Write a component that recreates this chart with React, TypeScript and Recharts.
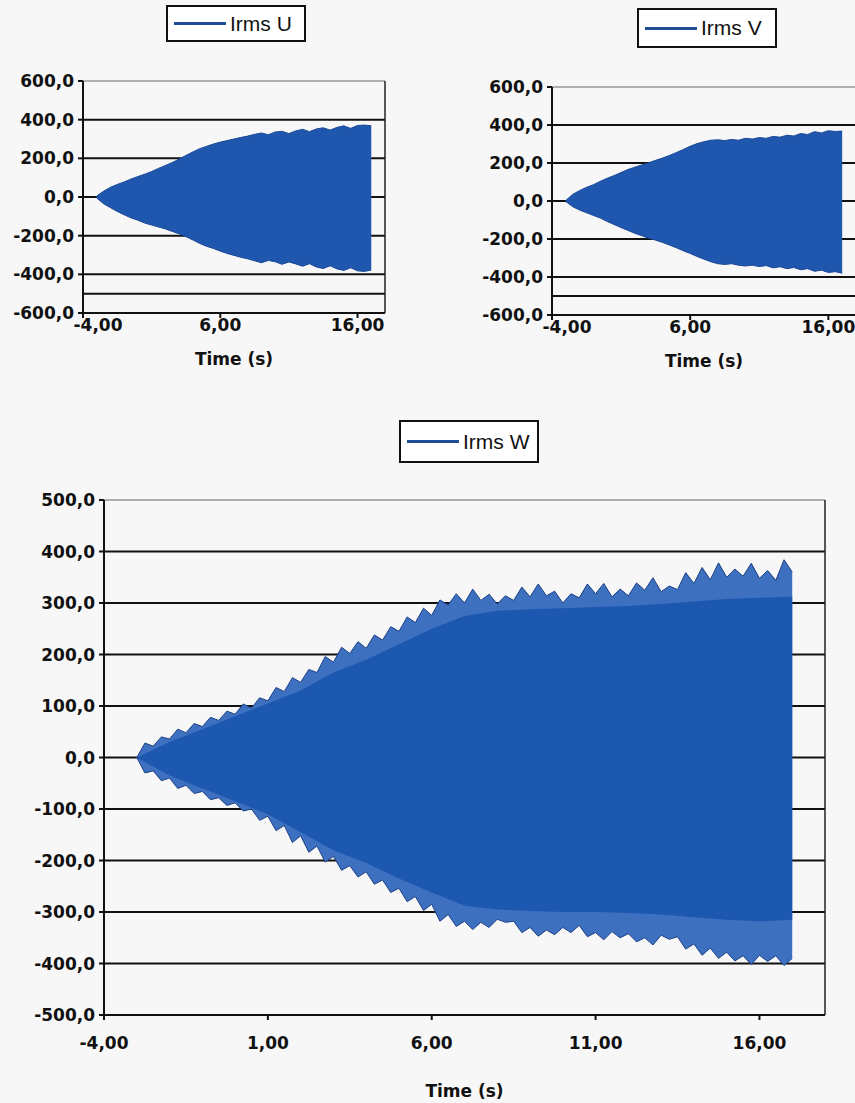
import { ComposedChart, Area, XAxis, YAxis, CartesianGrid, ReferenceLine } from 'recharts'

// sample times (s)
const halfSec = [-3, -2.5, -2, -1.5, -1, -0.5, 0, 0.5, 1, 1.5, 2, 2.5, 3, 3.5, 4, 4.5, 5, 5.5, 6, 6.5, 7, 7.5, 8, 8.5, 9, 9.5, 10, 10.5, 11, 11.5, 12, 12.5, 13, 13.5, 14, 14.5, 15, 15.5, 16, 16.5, 17]
const quarterSec = [-3, -2.75, -2.5, -2.25, -2, -1.75, -1.5, -1.25, -1, -0.75, -0.5, -0.25, 0, 0.25, 0.5, 0.75, 1, 1.25, 1.5, 1.75, 2, 2.25, 2.5, 2.75, 3, 3.25, 3.5, 3.75, 4, 4.25, 4.5, 4.75, 5, 5.25, 5.5, 5.75, 6, 6.25, 6.5, 6.75, 7, 7.25, 7.5, 7.75, 8, 8.25, 8.5, 8.75, 9, 9.25, 9.5, 9.75, 10, 10.25, 10.5, 10.75, 11, 11.25, 11.5, 11.75, 12, 12.25, 12.5, 12.75, 13, 13.25, 13.5, 13.75, 14, 14.25, 14.5, 14.75, 15, 15.25, 15.5, 15.75, 16, 16.25, 16.5, 16.75, 17]
const wholeSec = [-3, -2, -1, 0, 1, 2, 3, 4, 5, 6, 7, 8, 9, 10, 11, 12, 13, 14, 15, 16, 17]

// Irms U envelope (A)
const uUpper = [5, 30, 50, 65, 78, 93, 106, 118, 132, 148, 163, 178, 196, 215, 233, 250, 262, 274, 284, 292, 300, 308, 315, 324, 331, 322, 336, 340, 328, 342, 350, 338, 352, 358, 346, 360, 368, 355, 370, 372, 368]
const uLower = [-5, -35, -55, -75, -92, -108, -120, -135, -145, -155, -165, -178, -190, -205, -222, -240, -255, -266, -280, -292, -302, -312, -320, -330, -340, -328, -335, -348, -336, -346, -358, -345, -362, -370, -356, -372, -380, -366, -382, -385, -378]

// Irms V envelope (A)
const vUpper = [3, 35, 55, 72, 86, 104, 120, 134, 150, 166, 178, 190, 201, 214, 226, 240, 255, 271, 288, 302, 312, 320, 322, 318, 324, 320, 330, 326, 334, 330, 340, 336, 346, 342, 355, 350, 365, 358, 370, 366, 368]
const vLower = [-3, -30, -48, -62, -76, -90, -108, -124, -140, -155, -170, -183, -196, -206, -218, -232, -246, -262, -276, -292, -306, -320, -330, -334, -330, -338, -342, -338, -345, -340, -352, -346, -356, -350, -362, -356, -370, -364, -376, -372, -380]

// Irms W outer peaks (A)
const wUpper = [0, 28, 22, 40, 36, 55, 48, 66, 60, 78, 72, 90, 84, 104, 96, 116, 110, 136, 128, 155, 146, 171, 165, 196, 185, 214, 202, 225, 212, 238, 228, 254, 245, 273, 262, 290, 276, 306, 296, 318, 300, 327, 305, 317, 298, 314, 305, 331, 312, 337, 314, 323, 300, 318, 310, 337, 318, 338, 312, 327, 314, 339, 325, 349, 322, 333, 326, 359, 338, 369, 345, 378, 350, 366, 352, 377, 348, 363, 344, 384, 360]
const wLower = [0, -30, -26, -45, -40, -60, -54, -70, -66, -82, -78, -93, -88, -104, -100, -122, -114, -142, -132, -165, -152, -184, -172, -203, -192, -219, -210, -232, -222, -246, -238, -262, -254, -280, -270, -297, -285, -318, -305, -328, -318, -334, -320, -330, -314, -320, -318, -340, -330, -347, -335, -344, -330, -340, -326, -348, -340, -354, -338, -350, -342, -358, -350, -364, -345, -353, -348, -372, -362, -384, -370, -390, -378, -395, -385, -402, -384, -396, -385, -404, -390]
// Irms W dense core (A)
const wCoreUpper = [0, 30, 55, 80, 105, 130, 165, 190, 220, 250, 275, 285, 288, 290, 292, 294, 298, 303, 308, 310, 312]
const wCoreLower = [0, -35, -60, -85, -110, -145, -180, -205, -235, -262, -288, -295, -298, -300, -300, -302, -305, -310, -315, -318, -315]

const smallYTicks = [600, 400, 200, 0, -200, -400, -600]
const smallGrid = [400, 200, 0, -200, -400, -500]
const smallXTicks = [-4, 6, 16]
const bigYTicks = [500, 400, 300, 200, 100, 0, -100, -200, -300, -400, -500]
const bigGrid = [400, 300, 200, 100, 0, -100, -200, -300, -400]
const bigXTicks = [-4, 1, 6, 11, 16]

const toRows = (t: number[], lo: number[], hi: number[]) =>
  t.map((x, i) => ({ t: x, band: [lo[i], hi[i]] }))

const fmtY = (v: number) => v.toFixed(1).replace('.', ',')
const fmtX = (v: number) => v.toFixed(2).replace('.', ',')

const tickFont = { fontSize: 17, fontWeight: 700, fill: '#111', fontFamily: 'DejaVu Sans' }

function LegendBox({ left, top, width, height, label }: { left: number; top: number; width: number; height: number; label: string }) {
  return (
    <div
      style={{
        position: 'absolute', left, top, width, height, boxSizing: 'border-box',
        border: '2px solid #111', background: '#fff', display: 'flex', alignItems: 'center',
        fontFamily: 'Liberation Sans, Arial, sans-serif', fontSize: 21, color: '#111',
      }}
    >
      <span style={{ display: 'inline-block', width: 52, height: 3, background: '#1f4e96', margin: '0 4px 0 6px' }} />
      {label}
    </div>
  )
}

interface ChartProps {
  left: number
  top: number
  width: number
  height: number
  margin: { top: number; right: number; bottom: number; left: number }
  yWidth: number
  xHeight: number
  xGap: number
  firstShift: number
  yTicks: number[]
  grid: number[]
  xTicks: number[]
  labelOffset: number
  series: { rows: { t: number; band: number[] }[]; fill: string; stroke: string }[]
}

function WaveChart(p: ChartProps) {
  const yMax = p.yTicks[0]
  // the first time label sits a little right of its tick, as in the original
  const renderXTick = (props: any) => {
    const v = props.payload.value
    return (
      <text x={props.x + (v === p.xTicks[0] ? p.firstShift : 0)} y={props.y} dy="0.71em" textAnchor="middle" {...tickFont}>
        {fmtX(v)}
      </text>
    )
  }
  return (
    <div style={{ position: 'absolute', left: p.left, top: p.top }}>
      <ComposedChart width={p.width} height={p.height} margin={p.margin}>
        <CartesianGrid vertical={false} horizontalValues={p.grid} stroke="#111" strokeWidth={2} />
        <XAxis
          type="number" dataKey="t" domain={[-4, 18]} ticks={p.xTicks}
          height={p.xHeight} tick={renderXTick} tickSize={5} tickMargin={p.xGap}
          axisLine={{ stroke: '#111', strokeWidth: 2 }} tickLine={{ stroke: '#111', strokeWidth: 2 }}
          allowDuplicatedCategory={false}
          label={{ value: 'Time (s)', position: 'insideBottom', offset: p.labelOffset, fontSize: 17, fontWeight: 700, fill: '#111', fontFamily: 'DejaVu Sans' }}
        />
        <YAxis
          type="number" domain={[-yMax, yMax]} ticks={p.yTicks} interval={0} tickFormatter={fmtY}
          width={p.yWidth} tick={tickFont} tickSize={5} tickMargin={4}
          axisLine={{ stroke: '#111', strokeWidth: 2 }} tickLine={{ stroke: '#111', strokeWidth: 2 }}
        />
        {p.series.map((s, i) => (
          <Area
            key={i} data={s.rows} dataKey="band" type="linear" fill={s.fill} fillOpacity={1}
            stroke={s.stroke} strokeWidth={1} dot={false} activeDot={false} isAnimationActive={false}
          />
        ))}
        <ReferenceLine y={yMax} stroke="#666" strokeWidth={1} />
        <ReferenceLine x={18} stroke="#222" strokeWidth={1.5} />
      </ComposedChart>
    </div>
  )
}

export default function App() {
  return (
    <div style={{ position: 'absolute', left: 0, top: 0, width: 855, height: 1103, overflow: 'hidden', background: '#f7f7f7' }}>
      <LegendBox left={166} top={5} width={140} height={37} label="Irms U" />
      <LegendBox left={637} top={8} width={140} height={40} label="Irms V" />
      <LegendBox left={399} top={420} width={140} height={43} label="Irms W" />

      <WaveChart
        left={0} top={60} width={400} height={320}
        margin={{ top: 21, right: 15, bottom: 0, left: 0 }}
        yWidth={83} xHeight={67} xGap={1} firstShift={15} yTicks={smallYTicks} grid={smallGrid} xTicks={smallXTicks} labelOffset={15}
        series={[{ rows: toRows(halfSec, uLower, uUpper), fill: '#1f57ae', stroke: '#1a4898' }]}
      />
      <WaveChart
        left={460} top={60} width={400} height={322}
        margin={{ top: 27, right: 4, bottom: 0, left: 0 }}
        yWidth={92} xHeight={67} xGap={1} firstShift={15} yTicks={smallYTicks} grid={smallGrid} xTicks={smallXTicks} labelOffset={15}
        series={[{ rows: toRows(halfSec, vLower, vUpper), fill: '#1f57ae', stroke: '#1a4898' }]}
      />
      <WaveChart
        left={0} top={480} width={855} height={623}
        margin={{ top: 20, right: 30, bottom: 3, left: 0 }}
        yWidth={104} xHeight={85} xGap={17} firstShift={0} yTicks={bigYTicks} grid={bigGrid} xTicks={bigXTicks} labelOffset={3}
        series={[
          { rows: toRows(quarterSec, wLower, wUpper), fill: '#3e70c0', stroke: '#1b3f86' },
          { rows: toRows(wholeSec, wCoreLower, wCoreUpper), fill: '#1d58b0', stroke: 'none' },
        ]}
      />
    </div>
  )
}
